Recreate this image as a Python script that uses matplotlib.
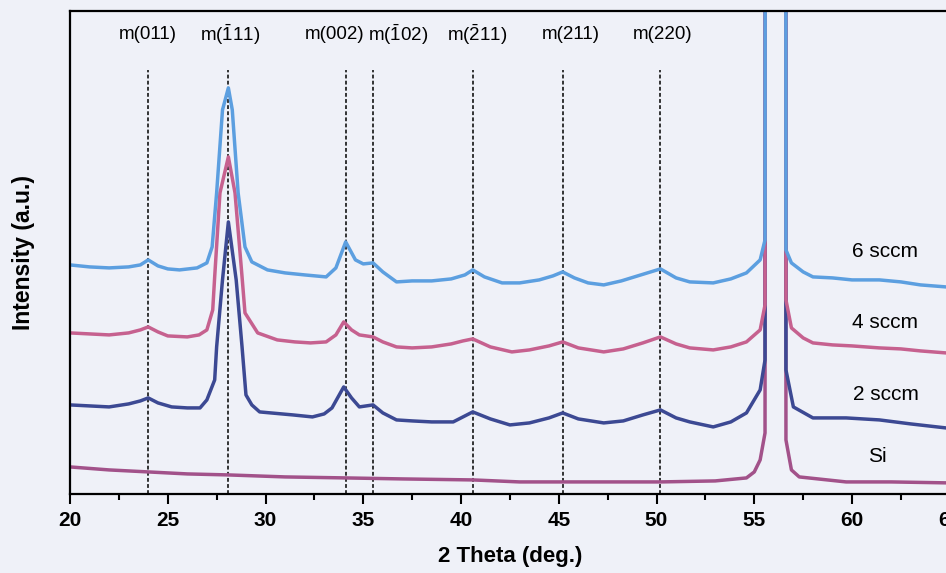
import numpy as np
import matplotlib
matplotlib.use('Agg')
import matplotlib.pyplot as plt
from matplotlib.ticker import MultipleLocator

plt.rc('font', family='Liberation Sans')
plt.rc('mathtext', fontset='custom', rm='Liberation Sans',
       it='Liberation Sans:italic', bf='Liberation Sans:bold', default='regular')

# XRD patterns (2 theta in deg., intensity in a.u.)
# the Si substrate peak near 56 deg runs far off the top of the plot
x_6 = [20.0, 21.0, 22.0, 23.0, 23.6, 24.0, 24.5, 25.0, 25.6, 26.5, 27.0, 27.27, 27.5,
       27.8, 28.1, 28.3, 28.6, 28.95, 29.3, 30.1, 31.0, 32.0, 33.1, 33.6, 34.1, 34.6,
       35.0, 35.5, 36.0, 36.7, 37.5, 38.5, 39.5, 40.2, 40.6, 41.2, 42.1, 43.0, 44.0,
       44.7, 45.2, 45.8, 46.5, 47.3, 48.2, 49.2, 50.2, 51.0, 51.7, 52.9, 53.8, 54.6,
       55.3, 55.55, 55.68, 56.1, 56.55, 56.62, 56.9, 57.5, 58.0, 59.0, 60.0, 61.4,
       62.5, 63.5, 64.8, 65.0]
y_6 = [229, 227, 226, 227, 229, 234, 228, 225, 224, 226, 231, 247, 301,
       384, 406, 384, 301, 247, 232, 224, 221, 219, 217, 226, 252, 234,
       230, 231, 222, 212, 213, 213, 215, 219, 224, 217, 211, 211, 214,
       218, 222, 216, 211, 209, 213, 219, 225, 216, 212, 211, 215, 221,
       234, 254, 5000, 9000, 5000, 244, 231, 222, 217, 216, 214, 214,
       212, 209, 207, 207]

x_4 = [20.0, 21.0, 22.0, 23.0, 23.6, 24.0, 24.5, 25.0, 26.0, 26.6, 27.0, 27.3, 27.4,
       27.67, 28.1, 28.44, 28.8, 28.95, 29.6, 30.6, 31.5, 32.3, 33.1, 33.6, 34.0, 34.4,
       34.8, 35.5, 36.0, 36.7, 37.5, 38.5, 39.5, 40.1, 40.6, 41.5, 42.6, 43.5, 44.5,
       45.2, 46.0, 47.3, 48.3, 49.3, 50.2, 51.0, 51.7, 52.9, 53.8, 54.6, 55.3, 55.55,
       55.68, 56.1, 56.55, 56.62, 56.9, 57.5, 58.0, 59.0, 60.0, 61.4, 62.5, 63.5,
       64.8, 65.0]
y_4 = [161, 160, 159, 161, 164, 167, 162, 158, 157, 159, 164, 184, 217,
       301, 337, 301, 217, 181, 161, 154, 152, 151, 152, 159, 172, 164,
       159, 157, 152, 147, 146, 147, 150, 153, 155, 147, 142, 144, 148,
       152, 146, 142, 145, 151, 157, 150, 146, 144, 147, 152, 164, 189,
       5000, 9000, 5000, 194, 166, 156, 151, 149, 148, 146, 145, 143,
       141, 141]

x_2 = [20.0, 21.0, 22.0, 23.0, 23.6, 24.0, 24.5, 25.2, 26.0, 26.65, 27.0, 27.4, 27.5,
       27.8, 28.1, 28.5, 28.8, 29.0, 29.3, 29.7, 31.4, 32.4, 33.0, 33.4, 34.0, 34.4,
       34.8, 35.5, 36.0, 36.7, 37.5, 38.5, 39.6, 40.1, 40.6, 41.5, 42.5, 43.5, 44.5,
       45.2, 46.0, 47.3, 48.3, 49.3, 50.2, 51.0, 51.7, 52.9, 53.8, 54.6, 55.3, 55.55,
       55.68, 56.1, 56.55, 56.62, 57.0, 58.0, 59.7, 61.4, 63.0, 64.8, 65.0]
y_2 = [89, 88, 87, 90, 93, 96, 91, 87, 86, 86, 94, 114, 147,
       214, 272, 214, 147, 99, 89, 82, 79, 77, 80, 86, 107, 96,
       87, 89, 81, 74, 73, 72, 72, 77, 82, 75, 69, 71, 76,
       81, 75, 71, 73, 79, 84, 76, 72, 67, 72, 81, 104, 134,
       5000, 9000, 5000, 124, 87, 76, 76, 74, 70, 66, 66]

x_si = [20.0, 22.0, 24.0, 26.0, 28.1, 31.0, 34.1, 37.0, 40.6, 43.0, 47.0, 50.2, 53.0,
        54.6, 55.0, 55.3, 55.55, 55.68, 56.1, 56.55, 56.62, 56.9, 57.3, 59.7, 62.0, 65.0]
y_si = [27, 24, 22, 20, 19, 17, 16, 15, 14, 12, 12, 12, 13,
        16, 22, 34, 61, 5000, 9000, 5000, 54, 24, 17, 12, 12, 11]

# monoclinic ZrO2 reflections
peak_pos = [24.0, 28.1, 34.1, 35.5, 40.6, 45.2, 50.2]
peak_lbl = ['m(011)', r'm($\bar{1}$11)', 'm(002)', r'm($\bar{1}$02)',
            r'm($\bar{2}$11)', 'm(211)', 'm(220)']
lbl_x = [24.0, 28.2, 33.55, 36.8, 40.8, 45.6, 50.3]

series = [('Si', x_si, y_si, '#a2528a', 61.3, 37),
          ('2 sccm', x_2, y_2, '#3c4993', 61.75, 99),
          ('4 sccm', x_4, y_4, '#c6618f', 61.7, 171),
          ('6 sccm', x_6, y_6, '#5c9fe0', 61.7, 242)]

bg = '#eff1f8'
fig = plt.figure(figsize=(9.46, 5.73), dpi=100, facecolor=bg)
ax = fig.add_axes([0.074, 0.138, 0.930, 0.843], facecolor=bg)

for p in peak_pos:
    ax.plot([p, p], [0, 424], color='k', ls=(0, (2.5, 1.5)), lw=1.1, zorder=1)

for name, xs, ys, c, tx, ty in series:
    ax.plot(xs, ys, color=c, lw=2.5, zorder=2)
    ax.text(tx, ty, name, fontsize=15, ha='center', va='center')

for lx, t in zip(lbl_x, peak_lbl):
    ax.text(lx, 459, t, fontsize=13.5, ha='center', va='center')

ax.set_xlim(20, 65)
ax.set_ylim(0, 483)
ax.xaxis.set_major_locator(MultipleLocator(5))
ax.xaxis.set_minor_locator(MultipleLocator(2.5))
ax.tick_params(axis='x', which='major', direction='out', length=7, width=1.5, pad=5)
ax.tick_params(axis='x', which='minor', direction='out', length=4, width=1.5)
ax.set_yticks([])
for lab in ax.get_xticklabels():
    lab.set_fontweight('bold')
    lab.set_fontsize(15)
for s in ['left', 'bottom', 'top']:
    ax.spines[s].set_linewidth(1.6)
ax.spines['right'].set_visible(False)

ax.set_xlabel('2 Theta (deg.)', fontsize=16, fontweight='bold', labelpad=12)
ax.set_ylabel('Intensity (a.u.)', fontsize=16.5, fontweight='bold', labelpad=25)

plt.savefig('out.png', dpi=100, facecolor=bg)
